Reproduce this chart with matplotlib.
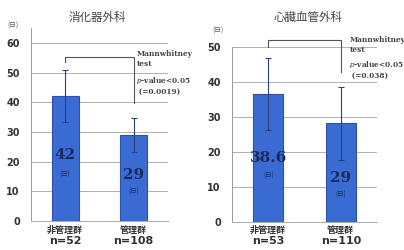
import matplotlib
matplotlib.use("Agg")
import matplotlib.pyplot as plt

plt.rcParams['font.family'] = ['Noto Sans CJK JP', 'DejaVu Sans']

groups = ["非管理群", "管理群"]
titles = ["消化器外科", "心臓血管外科"]
n_left = ["n=52", "n=108"]
n_right = ["n=53", "n=110"]
means_left = [42, 29]
err_left = [8.7, 5.7]
means_right = [36.6, 28.2]
err_right = [10.3, 10.4]
labels_left = ["42", "29"]
labels_right = ["38.6", "29"]
pvals = ["(=0.0019)", "(=0.038)"]
yticks_left = [0, 10, 20, 30, 40, 50, 60]
yticks_right = [0, 10, 20, 30, 40, 50]

W, H = 404, 250
fig = plt.figure(figsize=(W / 100, H / 100), dpi=100)
fig.patch.set_facecolor('white')

bar_color = '#3a6bd3'
edge_color = '#2a52a8'
navy = '#1c2b5e'
grey = '#555555'


def px(x, y):
    return x / W, 1 - y / H


def panel(rect, means, errs, labels, ns, title, title_xy, unit_xy, yticks, ylim,
          bracket, pv, label_pos, sub_pos, text_xy, width):
    ax = fig.add_axes(rect)
    x = [0, 1]
    ax.bar(x, means, width=width, color=bar_color, edgecolor=edge_color,
           linewidth=0.8, zorder=3)
    ax.errorbar(x, means, yerr=errs, fmt='none', ecolor='#2b3f7a',
                elinewidth=0.8, capsize=2.5, capthick=0.8, zorder=4)
    ax.set_xlim(-0.5, 1.5)
    ax.set_ylim(*ylim)
    ax.set_yticks(yticks)
    ax.set_yticklabels([str(t) for t in yticks], fontsize=7,
                       fontweight='bold', color='#333333', family='DejaVu Sans')
    ax.yaxis.grid(True, color='#b0b0b0', linewidth=0.7, zorder=0)
    ax.tick_params(axis='y', length=0, pad=8)
    ax.tick_params(axis='x', length=0, pad=2)
    ax.set_xticks(x)
    ax.set_xticklabels(["", ""])
    for xi, g, n in zip(x, groups, ns):
        ax.text(xi, 1 - 231 / H, g, transform=fig.transFigure
                if False else ax.get_xaxis_transform(), ha='center',
                va='center', fontsize=6.5, fontweight='bold', color='#333333')
        ax.text(xi, -0.11, n, transform=ax.get_xaxis_transform(), ha='center',
                va='center', fontsize=8, fontweight='bold', color='#333333',
                family='DejaVu Sans')
    for s in ['top', 'right']:
        ax.spines[s].set_visible(False)
    ax.spines['left'].set_color('#999999')
    ax.spines['left'].set_linewidth(0.7)
    ax.spines['bottom'].set_color('#aaaaaa')
    ax.spines['bottom'].set_linewidth(0.7)
    fig.text(*px(*title_xy), title, fontsize=8.3, color='#444444',
             ha='center', va='center')
    fig.text(*px(*unit_xy), "(日)", fontsize=4.8, color=grey,
             ha='center', va='center')
    # value labels
    for xi, lab, ly, sy in zip(x, labels, label_pos, sub_pos):
        ax.text(xi, ly, lab, ha='center', va='center', fontsize=11,
                fontweight='bold', color=navy, family='DejaVu Serif', zorder=5)
        ax.text(xi, sy, "(日)", ha='center', va='center', fontsize=4.5,
                color=navy, zorder=5)
    # bracket
    top, left_end, right_end = bracket
    ax.plot([0, 0, 1, 1], [left_end, top, top, right_end], color='#555555',
            linewidth=0.8, clip_on=False, zorder=5)
    tx, ty = text_xy
    ax.text(tx, ty, "Mannwhitney\ntest", fontsize=5.3, fontweight='bold',
            color='#444444', family='DejaVu Serif', va='top', ha='left',
            linespacing=1.25, clip_on=False)
    ax.text(tx, ty - (ylim[1] - ylim[0]) * 0.13,
            r"$\mathbf{\it{p}}$-value<0.05" + "\n " + pv,
            fontsize=5.3, fontweight='bold', color='#444444',
            family='DejaVu Serif', va='top', ha='left', linespacing=1.25,
            clip_on=False)
    return ax


def xlabel_y(bottom_px, top_px, target_px):
    # convert a pixel row into axes-fraction for the x-axis transform
    return (bottom_px - target_px) / (bottom_px - top_px)


axL = panel([31 / W, 1 - 221 / H, 137 / W, 193 / H], means_left, err_left,
            labels_left, n_left, titles[0], (97, 17), (13, 26), yticks_left, (0, 65),
            (55.2, 53.5, 39.7), pvals[0], [22.2, 15.5], [15.5, 10],
            (1.04, 57.5), 0.4)

axR = panel([232 / W, 1 - 222 / H, 145 / W, 175 / H], means_right, err_right,
            labels_right, n_right, titles[1], (308, 17), (218, 31), yticks_right, (0, 50),
            (52, 50, 43), pvals[1], [18.3, 12.6], [13.4, 7.7],
            (1.12, 53), 0.42)

# place group / n labels at exact pixel rows
for ax, bottom_px, top_px in [(axL, 221, 28), (axR, 222, 47)]:
    texts = ax.texts
    k = 0
    for t in texts[:4]:
        if k % 2 == 0:
            t.set_y(xlabel_y(bottom_px, top_px, 230.5))
        else:
            t.set_y(xlabel_y(bottom_px, top_px, 241))
        k += 1

fig.savefig("out.png", dpi=100, facecolor='white')
